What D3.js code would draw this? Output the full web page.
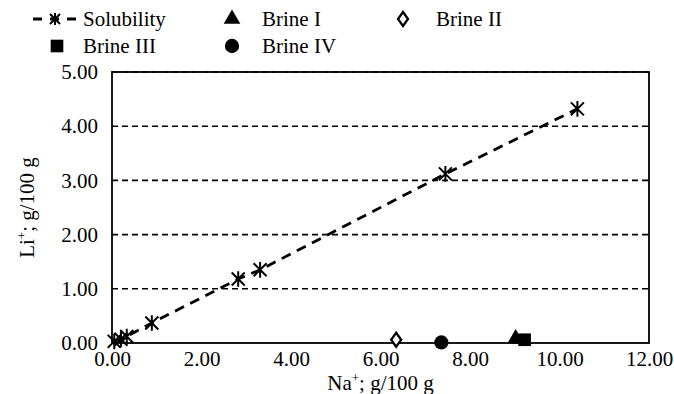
<!DOCTYPE html>
<html>
<head>
<meta charset="utf-8">
<script src="https://cdn.jsdelivr.net/npm/d3@7"></script>
<style>
  body { margin: 0; background: #fff; }
  svg text { font-family: "Times New Roman", "Liberation Serif", Times, serif !important; }
</style>
</head>
<body>
<div id="chart"></div>
<script>
// data
var solNa = [0.05, 0.2, 0.33, 0.89, 2.82, 3.31, 7.45, 10.40];
var solLi = [0.03, 0.07, 0.12, 0.37, 1.18, 1.35, 3.12, 4.32];
var brineNames = ["Brine I", "Brine II", "Brine III", "Brine IV"];
var brineNa = [9.02, 6.35, 9.22, 7.36];
var brineLi = [0.08, 0.06, 0.06, 0.01];
var xTicks = [0, 2, 4, 6, 8, 10, 12];
var yTicks = [0, 1, 2, 3, 4, 5];

var FS = 21;
var W = 674, H = 394;
var margin = { top: 72, right: 25, bottom: 51, left: 112 },
    width = 649 - margin.left,
    height = 343 - margin.top;

var svg = d3.select("#chart").append("svg")
    .attr("width", W).attr("height", H);
var inner = svg.append("g")
    .attr("transform", "translate(" + margin.left + "," + margin.top + ")");

var x = d3.scaleLinear().domain([0, 12]).range([0, width]);
var y = d3.scaleLinear().domain([0, 5]).range([height, 0]);

// gridlines (dashed)
inner.selectAll(".grid")
    .data(yTicks.filter(function (d) { return d > 0; }))
    .enter().append("line")
    .attr("x1", 0).attr("x2", width)
    .attr("y1", function (d) { return y(d); })
    .attr("y2", function (d) { return y(d); })
    .attr("stroke", "#000")
    .attr("stroke-width", 1.6)
    .attr("stroke-dasharray", "6,4");

// plot box
inner.append("rect")
    .attr("x", 0).attr("y", 0)
    .attr("width", width).attr("height", height)
    .attr("fill", "none")
    .attr("stroke", "#000")
    .attr("stroke-width", 1.8);

// axes (labels only, no tick marks)
var xAxis = inner.append("g")
    .attr("transform", "translate(0," + height + ")")
    .call(d3.axisBottom(x).tickValues(xTicks).tickSize(0).tickPadding(8)
        .tickFormat(d3.format(".2f")));
var yAxis = inner.append("g")
    .call(d3.axisLeft(y).tickValues(yTicks).tickSize(0).tickPadding(14)
        .tickFormat(d3.format(".2f")));
xAxis.select(".domain").remove();
yAxis.select(".domain").remove();
inner.selectAll(".tick text")
    .attr("fill", "#000")
    .style("font-size", FS + "px");

// axis titles
var xt = svg.append("text")
    .attr("x", margin.left + width / 2)
    .attr("y", 390)
    .attr("text-anchor", "middle")
    .style("font-size", FS + "px");
xt.append("tspan").text("Na");
xt.append("tspan").attr("dy", -8).style("font-size", "13px").text("+");
xt.append("tspan").attr("dy", 8).text("; g/100 g");

var yt = svg.append("text")
    .attr("transform", "translate(34," + (margin.top + height / 2) + ") rotate(-90)")
    .attr("text-anchor", "middle")
    .style("font-size", FS + "px");
yt.append("tspan").text("Li");
yt.append("tspan").attr("dy", -8).style("font-size", "13px").text("+");
yt.append("tspan").attr("dy", 8).text("; g/100 g");

// solubility line
var solData = solNa.map(function (d, i) { return [d, solLi[i]]; });
inner.append("path")
    .datum(solData)
    .attr("fill", "none")
    .attr("stroke", "#000")
    .attr("stroke-width", 2.8)
    .attr("stroke-dasharray", "10,7")
    .attr("d", d3.line()
        .x(function (d) { return x(d[0]); })
        .y(function (d) { return y(d[1]); }));

function star(g, cx, cy, r) {
    var p = "M" + (cx - r) + "," + (cy - r) + "L" + (cx + r) + "," + (cy + r) +
        "M" + (cx - r) + "," + (cy + r) + "L" + (cx + r) + "," + (cy - r) +
        "M" + cx + "," + (cy - r * 1.2) + "L" + cx + "," + (cy + r * 1.2);
    g.append("path").attr("d", p).attr("stroke", "#000").attr("stroke-width", 2).attr("fill", "none");
}
solData.forEach(function (d) { star(inner, x(d[0]), y(d[1]), 6.5); });

// brine markers
var shapes = {
    "Brine I": d3.symbolTriangle,
    "Brine II": d3.symbolDiamond,
    "Brine III": d3.symbolSquare,
    "Brine IV": d3.symbolCircle
};
var sizes = { "Brine I": 120, "Brine II": 55, "Brine III": 160, "Brine IV": 160 };
function marker(g, name, cx, cy) {
    var open = name === "Brine II";
    g.append("path")
        .attr("d", d3.symbol().type(shapes[name]).size(sizes[name])())
        .attr("transform", "translate(" + cx + "," + cy + ")" + (open ? " scale(1.25,1)" : ""))
        .attr("fill", open ? "#fff" : "#000")
        .attr("stroke", "#000")
        .attr("stroke-width", open ? 2 : 0);
}
brineNames.forEach(function (n, i) {
    marker(inner, n, x(brineNa[i]), y(brineLi[i]));
});

// legend
var leg = svg.append("g");
leg.append("line").attr("x1", 33).attr("x2", 76).attr("y1", 19).attr("y2", 19)
    .attr("stroke", "#000").attr("stroke-width", 2.8).attr("stroke-dasharray", "9,8");
star(leg, 55, 19, 5);
var legItems = [
    { name: "Solubility", sx: null, tx: 83, y: 19 },
    { name: "Brine I", sx: 232, tx: 262, y: 19 },
    { name: "Brine II", sx: 403, tx: 436, y: 19 },
    { name: "Brine III", sx: 57, tx: 83, y: 46 },
    { name: "Brine IV", sx: 232, tx: 262, y: 46 }
];
legItems.forEach(function (d) {
    if (d.sx !== null) marker(leg, d.name, d.sx, d.y);
    leg.append("text")
        .attr("x", d.tx).attr("y", d.y + 7)
        .style("font-size", FS + "px")
        .text(d.name);
});
</script>
</body>
</html>
